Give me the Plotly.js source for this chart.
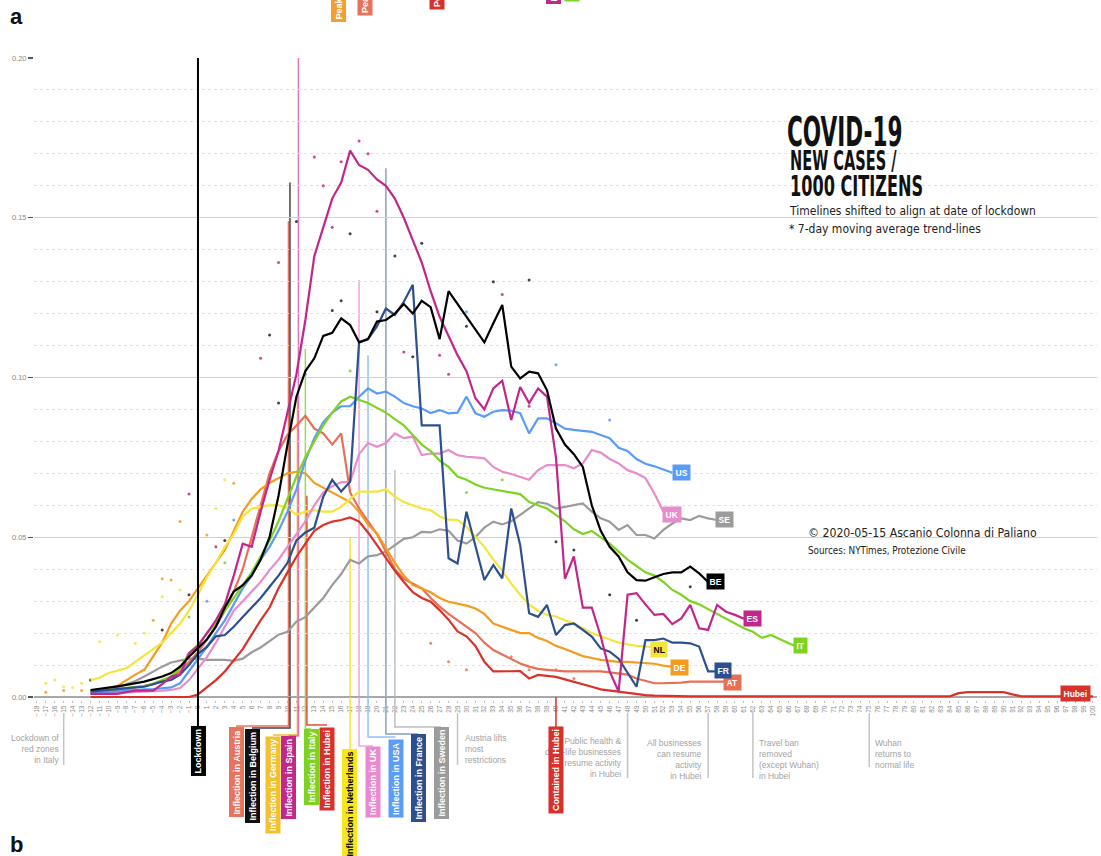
<!DOCTYPE html>
<html><head><meta charset="utf-8">
<script src="https://cdn.plot.ly/plotly-3.0.1.min.js"></script>
<style>html,body{margin:0;padding:0;background:#fff}#chart{width:1101px;height:856px}</style>
</head><body><div id="chart"></div>
<script>
// ---------------- DATA (days relative to lockdown, new cases per 1000 citizens, 7-day avg) ----------------
const itStart = -12;
const itValues = [0.0017,0.002,0.0023,0.0027,0.003,0.0032,0.0034,0.0042,0.0053,0.0064,0.009,0.0137,
 0.0163,0.020,0.023,0.027,0.031,0.035,0.039,0.044,0.049,0.055,
 0.062,0.069,0.075,0.080,0.085,0.089,0.0925,0.094,0.093,0.092,
 0.0905,0.089,0.087,0.085,0.082,0.079,0.077,0.074,0.072,0.069,
 0.068,0.0665,0.0655,0.065,0.0645,0.064,0.0635,0.061,0.060,0.059,
 0.057,0.055,0.0525,0.051,0.052,0.050,0.048,0.0455,0.043,0.041,
 0.039,0.038,0.036,0.0335,0.032,0.030,0.029,0.0275,0.026,0.0245,
 0.023,0.0215,0.0204,0.0185,0.0194,0.018,0.0168,0.0157];

const esStart = -12;
const esValues = [0.001,0.001,0.001,0.001,0.0015,0.002,0.002,0.002,0.004,0.0064,0.007,0.0137,
 0.016,0.020,0.024,0.029,0.038,0.048,0.047,0.058,0.068,0.077,
 0.089,0.101,0.118,0.138,0.147,0.156,0.161,0.171,0.1665,0.165,
 0.162,0.160,0.156,0.150,0.143,0.136,0.127,0.119,0.113,0.107,
 0.102,0.0935,0.090,0.0966,0.099,0.0867,0.097,0.092,0.0966,0.094,
 0.075,0.037,0.044,0.028,0.028,0.019,0.008,0.0017,0.032,0.0325,
 0.029,0.0257,0.026,0.0228,0.0246,0.0288,0.0215,0.021,0.0288,0.0267,
 0.0257,0.0245];

const beStart = -12;
const beValues = [0.0022,0.0025,0.0028,0.0033,0.0038,0.0043,0.0048,0.0056,0.0064,0.0075,0.0095,0.0126,
 0.0152,0.018,0.022,0.028,0.033,0.035,0.038,0.043,0.050,0.063,
 0.079,0.094,0.102,0.106,0.113,0.114,0.1185,0.1164,0.111,0.112,
 0.1175,0.118,0.120,0.123,0.120,0.124,0.122,0.112,0.127,0.123,
 0.119,0.115,0.111,0.117,0.1227,0.1034,0.0997,0.1018,0.1013,0.096,
 0.084,0.079,0.076,0.072,0.060,0.052,0.047,0.044,0.039,0.0366,
 0.0364,0.0375,0.0385,0.039,0.039,0.0408,0.0387,0.036];

const frStart = -12;
const frValues = [0.0017,0.002,0.0022,0.0025,0.0028,0.003,0.0032,0.004,0.0048,0.0053,0.007,0.010,
 0.0135,0.0157,0.019,0.0194,0.022,0.025,0.028,0.031,0.0345,0.038,
 0.042,0.049,0.0515,0.053,0.0627,0.068,0.0643,0.0674,0.111,0.112,
 0.116,0.1216,0.1196,0.1237,0.129,0.085,0.085,0.085,0.0434,0.0418,
 0.058,0.047,0.0366,0.0413,0.0371,0.059,0.0476,0.0262,0.0251,0.0288,
 0.0194,0.0225,0.023,0.021,0.0189,0.0152,0.0142,0.012,0.0074,0.0032,
 0.0178,0.0178,0.0183,0.017,0.017,0.0168,0.0158,0.008,0.008];

const usStart = -12;
const usValues = [0.0012,0.0014,0.0016,0.0019,0.0022,0.0023,0.0024,0.0025,0.0027,0.003,0.0043,0.008,
 0.012,0.0157,0.020,0.024,0.029,0.034,0.038,0.043,0.047,0.052,
 0.058,0.065,0.074,0.081,0.086,0.089,0.091,0.091,0.094,0.0966,
 0.095,0.0956,0.094,0.092,0.091,0.0903,0.0889,0.0898,0.0888,0.089,
 0.094,0.0888,0.0877,0.0893,0.0898,0.0896,0.0888,0.0825,0.0872,0.0872,
 0.0857,0.084,0.0836,0.0833,0.083,0.082,0.081,0.078,0.077,0.0745,
 0.073,0.0722,0.0712,0.0702];

const ukStart = -12;
const ukValues = [0.001,0.001,0.0012,0.0013,0.0014,0.0015,0.0016,0.0017,0.002,0.0022,0.0028,0.0053,
 0.009,0.0125,0.017,0.022,0.027,0.030,0.033,0.036,0.0397,0.043,
 0.047,0.0512,0.055,0.060,0.064,0.066,0.0672,0.0674,0.076,0.0795,
 0.0783,0.0795,0.0825,0.081,0.0815,0.0757,0.0762,0.0762,0.0773,0.0757,
 0.0752,0.075,0.0747,0.072,0.0705,0.0698,0.069,0.068,0.071,0.0726,
 0.0726,0.0726,0.0716,0.0731,0.0773,0.0765,0.0745,0.0731,0.071,0.070,
 0.0685,0.0637,0.058];

const seStart = -12;
const seValues = [0.0018,0.002,0.0025,0.003,0.004,0.005,0.0064,0.008,0.0095,0.0108,0.0113,0.012,
 0.012,0.0116,0.0116,0.0116,0.0113,0.012,0.014,0.0155,0.0175,0.0195,
 0.0204,0.0236,0.025,0.028,0.031,0.035,0.0385,0.0429,0.0418,0.044,
 0.0444,0.0455,0.0475,0.0495,0.050,0.0517,0.0515,0.0525,0.052,0.049,
 0.048,0.050,0.053,0.0549,0.054,0.055,0.057,0.059,0.061,0.0605,
 0.059,0.0595,0.060,0.0606,0.058,0.0559,0.0549,0.0523,0.0538,0.0507,
 0.0507,0.0496,0.0523,0.0543,0.0559,0.0554,0.0567,0.0559,0.0554];

const nlStart = -12;
const nlValues = [0.0053,0.006,0.0075,0.0082,0.009,0.011,0.013,0.015,0.017,0.020,0.023,0.027,
 0.032,0.0375,0.042,0.047,0.051,0.0565,0.059,0.0595,0.060,0.060,
 0.0592,0.057,0.058,0.0585,0.058,0.058,0.0595,0.062,0.0643,0.0643,
 0.0643,0.065,0.0627,0.061,0.060,0.059,0.0585,0.0565,0.0555,0.0554,
 0.0533,0.050,0.047,0.043,0.0395,0.0355,0.032,0.029,0.027,0.0257,
 0.0252,0.024,0.023,0.0215,0.020,0.019,0.018,0.017,0.0165,0.016,
 0.0158,0.0157];

const deStart = -12;
const deValues = [0.002,0.0023,0.0027,0.0035,0.0053,0.007,0.0085,0.0126,0.017,0.023,0.027,0.030,
 0.034,0.038,0.042,0.046,0.052,0.058,0.062,0.065,0.067,0.0685,
 0.070,0.0705,0.070,0.067,0.0655,0.064,0.0625,0.061,0.058,0.054,
 0.0512,0.0465,0.042,0.038,0.035,0.034,0.0328,0.031,0.0298,0.0292,
 0.0286,0.0277,0.026,0.023,0.022,0.021,0.020,0.020,0.0185,0.0175,
 0.016,0.015,0.0138,0.0128,0.0122,0.0116,0.0113,0.011,0.011,0.0108,
 0.0106,0.0104,0.0098,0.0095];

const atStart = -12;
const atValues = [0.001,0.0012,0.0015,0.002,0.0025,0.003,0.0035,0.004,0.005,0.006,0.008,0.011,
 0.014,0.018,0.022,0.027,0.033,0.040,0.050,0.060,0.070,0.077,
 0.082,0.085,0.088,0.084,0.0825,0.079,0.0825,0.064,0.059,0.055,
 0.051,0.0455,0.040,0.037,0.0355,0.034,0.031,0.0283,0.026,0.024,
 0.022,0.020,0.017,0.0147,0.0133,0.012,0.0105,0.0095,0.0088,0.0085,
 0.0082,0.008,0.008,0.008,0.008,0.008,0.0077,0.0074,0.007,0.0058,
 0.005,0.0043,0.0043,0.0043,0.0045,0.0048,0.0048,0.0048,0.0048,0.0048];

const hubeiStart = -12;
const hubeiValues = [0,0,0,0,0,0,0,0,0,0,0,0,
 0.0008,0.003,0.0053,0.008,0.0115,0.015,0.0195,0.024,0.028,0.034,
 0.039,0.0439,0.048,0.052,0.0538,0.0549,0.0554,0.0562,0.0549,0.0515,
 0.0475,0.0435,0.0395,0.036,0.0328,0.031,0.0298,0.0272,0.0242,0.0205,
 0.019,0.016,0.011,0.008,0.008,0.008,0.0081,0.0058,0.0069,0.0066,
 0.0063,0.0055,0.0048,0.004,0.0032,0.0024,0.002,0.0017,0.0012,0.0009,
 0.0006,0.0004,0.0003,0.0002,0.0002,0.0002,0.0002,0.0002,0.0002,0.0002,
 0.0002,0.0002,0.0002,0.0002,0.0002,0.0002,0.0002,0.0002,0.0002,0.0002,
 0.0002,0.0002,0.0002,0.0002,0.0002,0.0002,0.0002,0.0002,0.0002,0.0002,
 0.0002,0.0002,0.0002,0.0002,0.0002,0.0012,0.0015,0.0015,0.0015,0.0015,
 0.0015,0.0008,0.0002,0.0002,0.0002,0.0002,0.0002,0.0002,0.0002,0.0002,
 0.0002];

// daily raw values (dots)
const esDotDays = [-1,2,7,9,13,14,15,16,18,19,20,23,27,28,34,37];
const esDotVals = [0.0635,0.047,0.106,0.136,0.169,0.160,0.147,0.1675,0.174,0.170,0.152,0.108,0.107,0.101,0.126,0.091];
const beDotDays = [-12,-4,-1,3,8,9,11,15,16,17,20,22,24,25,30,33,37,40,42,46,49,55];
const beDotVals = [0.0053,0.021,0.032,0.049,0.1133,0.092,0.1488,0.121,0.124,0.145,0.1206,0.138,0.1065,0.142,0.116,0.130,0.1305,0.0486,0.046,0.032,0.024,0.0345];
const usDotDays = [1,4,12,30,40,46];
const usDotVals = [0.030,0.0554,0.101,0.1206,0.104,0.0867];
const itDotDays = [-1,3,17,30,34];
const itDotVals = [0.025,0.042,0.102,0.064,0.068];
const nlDotDays = [-17,-16,-15,-14,-13,-11,-9,-7,-6,-4,-2,2,3];
const nlDotVals = [0.0043,0.0053,0.0032,0.003,0.0043,0.0173,0.0194,0.0168,0.020,0.0314,0.0335,0.059,0.068];
const deDotDays = [-17,-15,-13,-5,-4,-3,-2,1,4];
const deDotVals = [0.0015,0.002,0.002,0.024,0.037,0.0366,0.0549,0.0507,0.0669];
const atDotDays = [26,28,30,35,37,40,42];
const atDotVals = [0.0168,0.011,0.0085,0.0126,0.0085,0.0085,0.0058];

// inflection points
const inflNames = ['Austria','Belgium','Germany','Spain','Italy','Hubei','Netherlands','UK','USA','France','Sweden'];
const inflDays  = [10,10,11,11,12,12,17,18,19,21,22];
const inflTops  = [0.149,0.161,0.095,0.20,0.109,0.063,0.050,0.1305,0.107,0.1655,0.071];

// events
const lockdownDay = 0;
const containedHubeiDay = 40;
const eventDays  = [-15,29,48,57,62,75];
const eventTexts = ['Lockdown of<br>red zones<br>in Italy','Austria lifts<br>most<br>restrictions',
  'Public health &<br>daily-life businesses<br>resume activity<br>in Hubei',
  'All businesses<br>can resume<br>activity<br>in Hubei',
  'Travel ban<br>removed<br>(except Wuhan)<br>in Hubei','Wuhan<br>returns to<br>normal life'];

// ---------------- LAYOUT GEOMETRY ----------------
const L = 34, T = 57, W = 1063, H = 643;
const XR = [-18.32, 100.45], YR = [-0.00094, 0.20031];
const dayToPx = d => L + (d - XR[0]) / (XR[1] - XR[0]) * W;
const px2paper = px => (px - L) / W;
const py2paper = py => (T + H - py) / H;

const SANS = "'Liberation Sans', Arial, Helvetica, sans-serif";
const NARROW = "'DejaVu Sans Condensed', 'Liberation Sans', sans-serif";

const series = [
  {key:'SE', start:seStart, values:seValues, color:'#9b9b9b', label:'SE', dx:7, dy:0},
  {key:'AT', start:atStart, values:atValues, color:'#ea6e55', label:'AT', dx:6, dy:-1},
  {key:'Hubei', start:hubeiStart, values:hubeiValues, color:'#d8322a', label:'Hubei', dx:-17, dy:3},
  {key:'DE', start:deStart, values:deValues, color:'#f39c1e', label:'DE', dx:7, dy:-1},
  {key:'NL', start:nlStart, values:nlValues, color:'#f5e43a', label:'NL', dx:5, dy:-3, textColor:'#000'},
  {key:'UK', start:ukStart, values:ukValues, color:'#e88ccb', label:'UK', dx:9, dy:-3},
  {key:'US', start:usStart, values:usValues, color:'#5a9cf5', label:'US', dx:9, dy:0},
  {key:'IT', start:itStart, values:itValues, color:'#7ed321', label:'IT', dx:3, dy:1},
  {key:'FR', start:frStart, values:frValues, color:'#2c4f8f', label:'FR', dx:6, dy:1},
  {key:'ES', start:esStart, values:esValues, color:'#c2268c', label:'ES', dx:9, dy:0},
  {key:'BE', start:beStart, values:beValues, color:'#000000', label:'BE', dx:7, dy:0}
];

const dotSets = [
  {days:nlDotDays, vals:nlDotVals, color:'#f5e43a'},
  {days:deDotDays, vals:deDotVals, color:'#f39c1e'},
  {days:atDotDays, vals:atDotVals, color:'#ea6e55'},
  {days:itDotDays, vals:itDotVals, color:'#7ed321'},
  {days:usDotDays, vals:usDotVals, color:'#5a9cf5'},
  {days:esDotDays, vals:esDotVals, color:'#c2268c'},
  {days:beDotDays, vals:beDotVals, color:'#222222'}
];

const traces = [];
dotSets.forEach(s => traces.push({type:'scatter', mode:'markers', x:s.days, y:s.vals,
  marker:{size:3, color:s.color, opacity:0.85}, hoverinfo:'skip', showlegend:false}));
series.forEach(s => {
  const xs = s.values.map((v,i) => s.start + i);
  traces.push({type:'scatter', mode:'lines', x:xs, y:s.values,
    line:{color:s.color, width:2.2, shape:'linear'}, hoverinfo:'skip', showlegend:false});
});

// inflection styling (positions in page pixels for boxes below the axis)
const inflStyle = {
  Austria:    {off:1,   elbow:726, cx:236,   top:727, line:'#e8735c', bg:'#e8735c', fg:'#fff'},
  Belgium:    {off:2.5, elbow:728, cx:252,   top:729, line:'#444444', bg:'#111111', fg:'#fff'},
  Germany:    {off:1,   elbow:735, cx:273,   top:736, line:'#f0c030', bg:'#f2c12e', fg:'#fff'},
  Spain:      {off:2,   elbow:736, cx:288.5, top:736, line:'rgba(214,70,170,0.75)', bg:'#c0288a', fg:'#fff'},
  Italy:      {off:0,   elbow:729, cx:311,   top:729, line:'#95dc55', bg:'#7ed321', fg:'#fff'},
  Hubei:      {off:1.5, elbow:725, cx:327,   top:727, line:'#e4502f', bg:'#d9302c', fg:'#fff'},
  Netherlands:{off:0,   elbow:749, cx:350,   top:749, line:'#f5e43a', bg:'#f8e71c', fg:'#000'},
  UK:         {off:0,   elbow:746, cx:373,   top:746, line:'#f0a6da', bg:'#e98ad0', fg:'#fff'},
  USA:        {off:0,   elbow:737, cx:395.5, top:739, line:'#98bff8', bg:'#5b9cf6', fg:'#fff'},
  France:     {off:0,   elbow:734, cx:418,   top:734, line:'#8b9dc6', bg:'#2d4f8e', fg:'#fff'},
  Sweden:     {off:0,   elbow:727, cx:441,   top:727, line:'#bdbdbd', bg:'#9b9b9b', fg:'#fff'}
};

const shapes = [];
const annotations = [];

// lockdown line
shapes.push({type:'line', xref:'x', yref:'y', x0:lockdownDay, x1:lockdownDay, y0:0, y1:0.2,
  line:{color:'#000', width:2}, layer:'above'});
shapes.push({type:'line', xref:'paper', yref:'paper',
  x0:px2paper(dayToPx(lockdownDay)), x1:px2paper(dayToPx(lockdownDay)), y0:py2paper(697), y1:py2paper(726),
  line:{color:'#000', width:2}});

inflNames.forEach((n,i) => {
  const st = inflStyle[n];
  shapes.push({type:'line', xref:'x', yref:'y', xsizemode:'pixel', xanchor:inflDays[i], x0:st.off, x1:st.off,
    y0:0, y1:inflTops[i], line:{color:st.line, width:1.5}, layer:'below'});
  const lx = px2paper(dayToPx(inflDays[i]) + st.off);
  shapes.push({type:'path', xref:'paper', yref:'paper',
    path:`M ${lx} ${py2paper(697)} L ${lx} ${py2paper(st.elbow)} L ${px2paper(st.cx)} ${py2paper(st.elbow)}`,
    line:{color:st.line, width:1.5}});
});

// event gray lines
const eventLineBottoms = [765,765,778,778,778,767];
eventDays.forEach((d,i) => {
  const x = px2paper(dayToPx(d));
  shapes.push({type:'line', xref:'paper', yref:'paper', x0:x, x1:x, y0:py2paper(713), y1:py2paper(eventLineBottoms[i]),
    line:{color:'#c4c4c4', width:1.5}});
});
// contained in Hubei connector
shapes.push({type:'line', xref:'paper', yref:'paper', x0:px2paper(dayToPx(containedHubeiDay)), x1:px2paper(dayToPx(containedHubeiDay)),
  y0:py2paper(697), y1:py2paper(727), line:{color:'#d9302c', width:1.5}});

// event texts
const eventAlign = ['right','left','right','right','left','left'];
const eventDx    = [-3, 5, -4, -4, 4, 4];
const eventTop   = [731,731,734,736,736,736];
eventDays.forEach((d,i) => {
  annotations.push({xref:'paper', yref:'paper', x:px2paper(dayToPx(d)+eventDx[i]), y:py2paper(eventTop[i]),
    xanchor:eventAlign[i], yanchor:'top', align:eventAlign[i], showarrow:false, text:eventTexts[i],
    font:{family:SANS, size:8.5, color:'#a3a3a3'}});
});

// rotated label boxes below axis
function box(text, cx, top, bg, fg){
  annotations.push({xref:'paper', yref:'paper', x:px2paper(cx), y:py2paper(top), xanchor:'center', yanchor:'top',
    textangle:-90, text:'<b>'+text+'</b>', showarrow:false, bgcolor:bg, borderpad:2,
    font:{family:SANS, size:9, color:fg}});
}
box('Lockdown', dayToPx(lockdownDay), 725, '#000', '#fff');
inflNames.forEach(n => { const st = inflStyle[n]; box('Inflection in ' + n, st.cx, st.top, st.bg, st.fg); });
box('Contained in Hubei', dayToPx(containedHubeiDay), 726, '#d9302c', '#fff');

// cut-off labels from the panel above
function topBox(text, cx, bottom, bg){
  annotations.push({xref:'paper', yref:'paper', x:px2paper(cx), y:py2paper(bottom), xanchor:'center', yanchor:'bottom',
    textangle:-90, text:'<b>'+text+'</b>', showarrow:false, bgcolor:bg, borderpad:2,
    font:{family:SANS, size:9, color:'#fff'}});
}
topBox('Peak in Germany', 339, 23, '#f0a030');
topBox('Peak in Austria', 365, 16, '#e8735c');
topBox('Peak in Hubei', 436.5, 10, '#d9302c');
topBox('Peak in Spain', 553, 5, '#c0288a');
topBox('Peak in Italy', 572, 2, '#7ed321');

// series end labels
series.forEach(s => {
  const n = s.values.length;
  annotations.push({xref:'x', yref:'y', x:s.start + n - 1, y:s.values[n-1], xanchor:'center', yanchor:'middle',
    xshift:s.dx, yshift:s.dy, text:'<b>'+s.label+'</b>', showarrow:false, bgcolor:s.color, borderpad:2.5,
    font:{family:SANS, size:8.5, color:s.textColor || '#fff'}});
});

// titles
function txt(text, px, py, size, family, color){
  annotations.push({xref:'paper', yref:'paper', x:px2paper(px), y:py2paper(py), xanchor:'left', yanchor:'top',
    text:text, showarrow:false, align:'left', font:{family:family, size:size, color:color||'#111'}});
}
txt('<b>COVID-19</b>', 785, 107, 40, NARROW, '#111');
txt('<b>NEW CASES /</b>', 788, 143, 27, NARROW, '#111');
txt('<b>1000 CITIZENS</b>', 788, 168, 28, NARROW, '#111');
txt('Timelines shifted to align at date of lockdown', 787, 202, 12, NARROW, '#222');
txt('* 7-day moving average trend-lines', 787, 220, 12, NARROW, '#222');
txt('© 2020-05-15 Ascanio Colonna di Paliano', 806, 524, 12.2, NARROW, '#222');
txt('Sources: NYTimes, Protezione Civile', 806, 543, 9.8, NARROW, '#222');
txt('<b>a</b>', 8, 2, 22, SANS, '#111');
txt('<b>b</b>', 8, 830, 22, SANS, '#111');

const layout = {
  width:1101, height:856,
  margin:{l:L, r:1101-L-W, t:T, b:856-T-H},
  paper_bgcolor:'#fff', plot_bgcolor:'#fff',
  showlegend:false, hovermode:false,
  xaxis:{range:XR, tickmode:'linear', tick0:-18, dtick:1, tickangle:-90, showgrid:false, zeroline:false,
    showline:false, ticks:'outside', ticklen:2, tickcolor:'#bbb',
    tickfont:{family:SANS, size:6.5, color:'#8a8a8a'}},
  yaxis:{range:YR, tickmode:'linear', tick0:0, dtick:0.05, tickformat:'.2f', showgrid:true, gridcolor:'#d0d0d0', gridwidth:1.2,
    zeroline:true, zerolinecolor:'#a8a8a8', zerolinewidth:2.5, showline:false,
    ticks:'outside', ticklen:5, tickwidth:1.3, tickcolor:'#555',
    tickfont:{family:SANS, size:7.5, color:'#8a8a8a'},
    minor:{dtick:0.01, showgrid:true, gridcolor:'#e2e2e2', griddash:'dot', gridwidth:1}},
  shapes:shapes, annotations:annotations
};

// horizontal compression for the condensed headline type
const condensed = {'COVID-19':0.6, 'NEW CASES /':0.6, '1000 CITIZENS':0.64};

Plotly.newPlot('chart', traces, layout, {staticPlot:true, displayModeBar:false}).then(() => {
  document.querySelectorAll('text.annotation-text').forEach(t => {
    const s = condensed[t.textContent.trim()];
    if (s) {
      t.style.transformBox = 'fill-box';
      t.style.transformOrigin = '0 0';
      t.style.transform = 'scaleX(' + s + ')';
    }
  });
});
</script>
</body></html>
